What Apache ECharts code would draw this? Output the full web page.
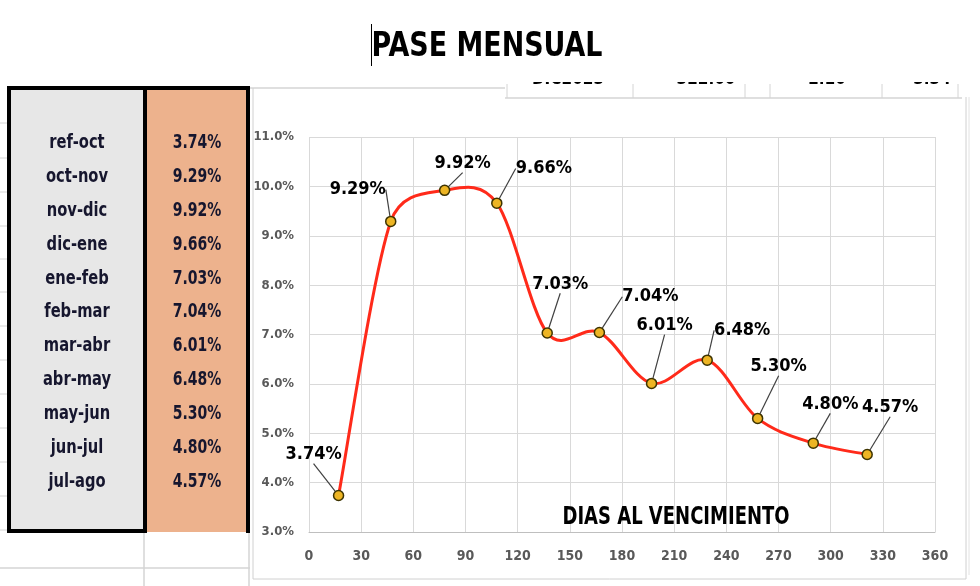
<!DOCTYPE html>
<html>
<head>
<meta charset="utf-8">
<script src="https://cdn.jsdelivr.net/npm/echarts@6/dist/echarts.min.js"></script>
<style>html,body{margin:0;padding:0;background:#fff;}#c{width:980px;height:586px;}</style>
</head>
<body>
<div id="c"></div>
<script>
const tramos = ['ref-oct','oct-nov','nov-dic','dic-ene','ene-feb','feb-mar','mar-abr','abr-may','may-jun','jun-jul','jul-ago'];
const dias = [17, 47, 78, 108, 137, 167, 197, 229, 258, 290, 321];
const pase = [3.74, 9.29, 9.92, 9.66, 7.03, 7.04, 6.01, 6.48, 5.30, 4.80, 4.57];
const xTicks = {min: 0, max: 360, interval: 30};
const yTicks = {min: 3, max: 11, interval: 1};
const hiddenRow = ['DIC2023', '322.60', '2.10', '3.34'];

const NARROW = "'Liberation Sans Narrow','DejaVu Sans Condensed','Roboto Condensed',sans-serif";
const labelOffsets = [[-25,-26],[-33,-17],[18,-12],[47,-20],[13,-34],[51,-21],[13,-43],[35,-15],[21,-37],[17,-24],[23,-32]];

const chart = echarts.init(document.getElementById('c'), null, {renderer: 'canvas'});

const graphics = [];
const grey = '#D4D4D4';
[123,158,192,226,259,292,326,360,394,428,462,496,530].forEach(y => {
  graphics.push({type:'line', shape:{x1:0,y1:y,x2:7,y2:y}, style:{stroke:grey,lineWidth:1}, z:1});
});
graphics.push({type:'line', shape:{x1:0,y1:568,x2:250,y2:568}, style:{stroke:grey,lineWidth:1.5}, z:1});
graphics.push({type:'line', shape:{x1:144,y1:532,x2:144,y2:586}, style:{stroke:grey,lineWidth:1.5}, z:1});
graphics.push({type:'line', shape:{x1:249,y1:532,x2:249,y2:586}, style:{stroke:grey,lineWidth:1.5}, z:1});
graphics.push({type:'line', shape:{x1:250,y1:88,x2:505,y2:88}, style:{stroke:grey,lineWidth:1.5}, z:1});
const hiddenX = [568, 706, 827, 932];
hiddenRow.forEach((t,i) => {
  graphics.push({type:'text', x:hiddenX[i], y:89, scaleX:0.85, style:{text:t, font:'bold 20px '+NARROW, fill:'#000', align:'center', verticalAlign:'bottom'}, z:1});
});
graphics.push({type:'rect', shape:{x:500,y:60,width:480,height:22}, style:{fill:'#fff'}, z:2});
graphics.push({type:'line', shape:{x1:505,y1:98,x2:962,y2:98}, style:{stroke:grey,lineWidth:1.5}, z:2});
[507,633,745,770,882,958].forEach(x => {
  graphics.push({type:'line', shape:{x1:x,y1:84,x2:x,y2:98}, style:{stroke:grey,lineWidth:1}, z:2});
});
graphics.push({type:'line', shape:{x1:253,y1:88,x2:253,y2:579}, style:{stroke:'#D0D0D0',lineWidth:1}, z:2});
graphics.push({type:'line', shape:{x1:253,y1:579,x2:966,y2:579}, style:{stroke:'#D0D0D0',lineWidth:1}, z:2});
graphics.push({type:'line', shape:{x1:966,y1:97,x2:966,y2:579}, style:{stroke:'#D0D0D0',lineWidth:1}, z:2});
graphics.push({type:'line', shape:{x1:969,y1:97,x2:969,y2:575}, style:{stroke:'#E2E2E2',lineWidth:1}, z:2});
graphics.push({type:'rect', shape:{x:10,y:88,width:134,height:443}, style:{fill:'#E7E7E7'}, z:3});
graphics.push({type:'rect', shape:{x:145,y:88,width:103,height:444}, style:{fill:'#EDB28D'}, z:3});
graphics.push({type:'line', shape:{x1:9,y1:88,x2:9,y2:532}, style:{stroke:'#000',lineWidth:4}, z:4});
graphics.push({type:'line', shape:{x1:7,y1:88,x2:250,y2:88}, style:{stroke:'#000',lineWidth:4}, z:4});
graphics.push({type:'line', shape:{x1:145,y1:88,x2:145,y2:532}, style:{stroke:'#000',lineWidth:4}, z:4});
graphics.push({type:'line', shape:{x1:248,y1:86,x2:248,y2:533}, style:{stroke:'#000',lineWidth:4}, z:4});
graphics.push({type:'line', shape:{x1:7,y1:531,x2:147,y2:531}, style:{stroke:'#000',lineWidth:4}, z:4});
tramos.forEach((t,i) => {
  const y = 143 + i*33.9;
  graphics.push({type:'text', x:77, y:y, scaleX:0.86, style:{text:t, font:'bold 19px '+NARROW, fill:'#16162e', align:'center', verticalAlign:'middle'}, z:5});
  graphics.push({type:'text', x:197, y:y, scaleX:0.82, style:{text:pase[i].toFixed(2)+'%', font:'bold 19px '+NARROW, fill:'#16162e', align:'center', verticalAlign:'middle'}, z:5});
});
graphics.push({type:'text', x:487, y:47, scaleX:0.88, style:{text:'PASE MENSUAL', font:'bold 34px '+NARROW, fill:'#000', align:'center', verticalAlign:'middle'}, z:5});
graphics.push({type:'line', shape:{x1:371.5,y1:24,x2:371.5,y2:66}, style:{stroke:'#000',lineWidth:1}, z:6});
graphics.push({type:'text', x:676, y:517, scaleX:0.8, style:{text:'DIAS AL VENCIMIENTO', font:'bold 25px '+NARROW, fill:'#000', align:'center', verticalAlign:'middle'}, z:20});

// Excel-like smoothing: Catmull-Rom arms (1/6 of chord), capped at half of the segment length
function arm(pa, pb, segA, segB) {
  let ax = (pb[0]-pa[0])/6, ay = (pb[1]-pa[1])/6;
  const len = Math.hypot(ax, ay);
  const maxLen = Math.hypot(segB[0]-segA[0], segB[1]-segA[1]) / 2;
  if (len > maxLen && len > 0) { ax *= maxLen/len; ay *= maxLen/len; }
  return [ax, ay];
}
function splinePath(pts) {
  let d = 'M' + pts[0][0] + ' ' + pts[0][1];
  for (let i = 0; i < pts.length - 1; i++) {
    const p0 = pts[Math.max(i-1,0)], p1 = pts[i], p2 = pts[i+1], p3 = pts[Math.min(i+2,pts.length-1)];
    const a1 = arm(p0, p2, p1, p2);
    const a2 = arm(p1, p3, p1, p2);
    const c1 = [p1[0] + a1[0], p1[1] + a1[1]];
    const c2 = [p2[0] - a2[0], p2[1] - a2[1]];
    d += ' C' + c1[0] + ' ' + c1[1] + ' ' + c2[0] + ' ' + c2[1] + ' ' + p2[0] + ' ' + p2[1];
  }
  return d;
}

const seriesData = dias.map((d,i) => [d, pase[i]]);

const option = {
  backgroundColor: '#fff',
  animation: false,
  grid: {left: 309, right: 45, top: 137, bottom: 54},
  xAxis: {
    type: 'value', min: xTicks.min, max: xTicks.max, interval: xTicks.interval,
    axisLine: {show: true, lineStyle: {color: '#BFBFBF', width: 1}},
    axisTick: {show: false},
    splitLine: {show: true, lineStyle: {color: '#D9D9D9', width: 1}},
    axisLabel: {margin: 17, color: '#595959', fontFamily: NARROW, fontWeight: 'bold', fontSize: 14}
  },
  yAxis: {
    type: 'value', min: yTicks.min, max: yTicks.max, interval: yTicks.interval,
    axisLine: {show: false},
    axisTick: {show: false},
    splitLine: {show: true, lineStyle: {color: '#D9D9D9', width: 1}},
    axisLabel: {margin: 15, color: '#595959', fontFamily: NARROW, fontWeight: 'bold', fontSize: 13,
      formatter: v => v.toFixed(1) + '%'}
  },
  graphic: graphics,
  series: [{
    type: 'custom',
    data: seriesData,
    encode: {x: 0, y: 1},
    z: 9,
    renderItem: (params, api) => {
      if (params.dataIndex !== 0) return;
      const pts = seriesData.map(v => api.coord(v));
      return {type: 'path', shape: {pathData: splinePath(pts)}, style: {fill: 'none', stroke: '#FF2A1A', lineWidth: 3}};
    }
  }, {
    type: 'line',
    data: seriesData,
    symbol: 'circle',
    symbolSize: 10,
    lineStyle: {width: 0, opacity: 0},
    itemStyle: {color: '#EDB524', borderColor: '#3d3300', borderWidth: 1.5},
    z: 10,
    label: {
      show: true, position: 'top', distance: 0,
      formatter: p => p.value[1].toFixed(2) + '%',
      fontFamily: NARROW, fontWeight: 'bold', fontSize: 18, color: '#000'
    },
    labelLine: {show: true, lineStyle: {color: '#404040', width: 1.2}},
    labelLayout: p => ({dx: labelOffsets[p.dataIndex][0], dy: labelOffsets[p.dataIndex][1]})
  }]
};
chart.setOption(option);
</script>
</body>
</html>
